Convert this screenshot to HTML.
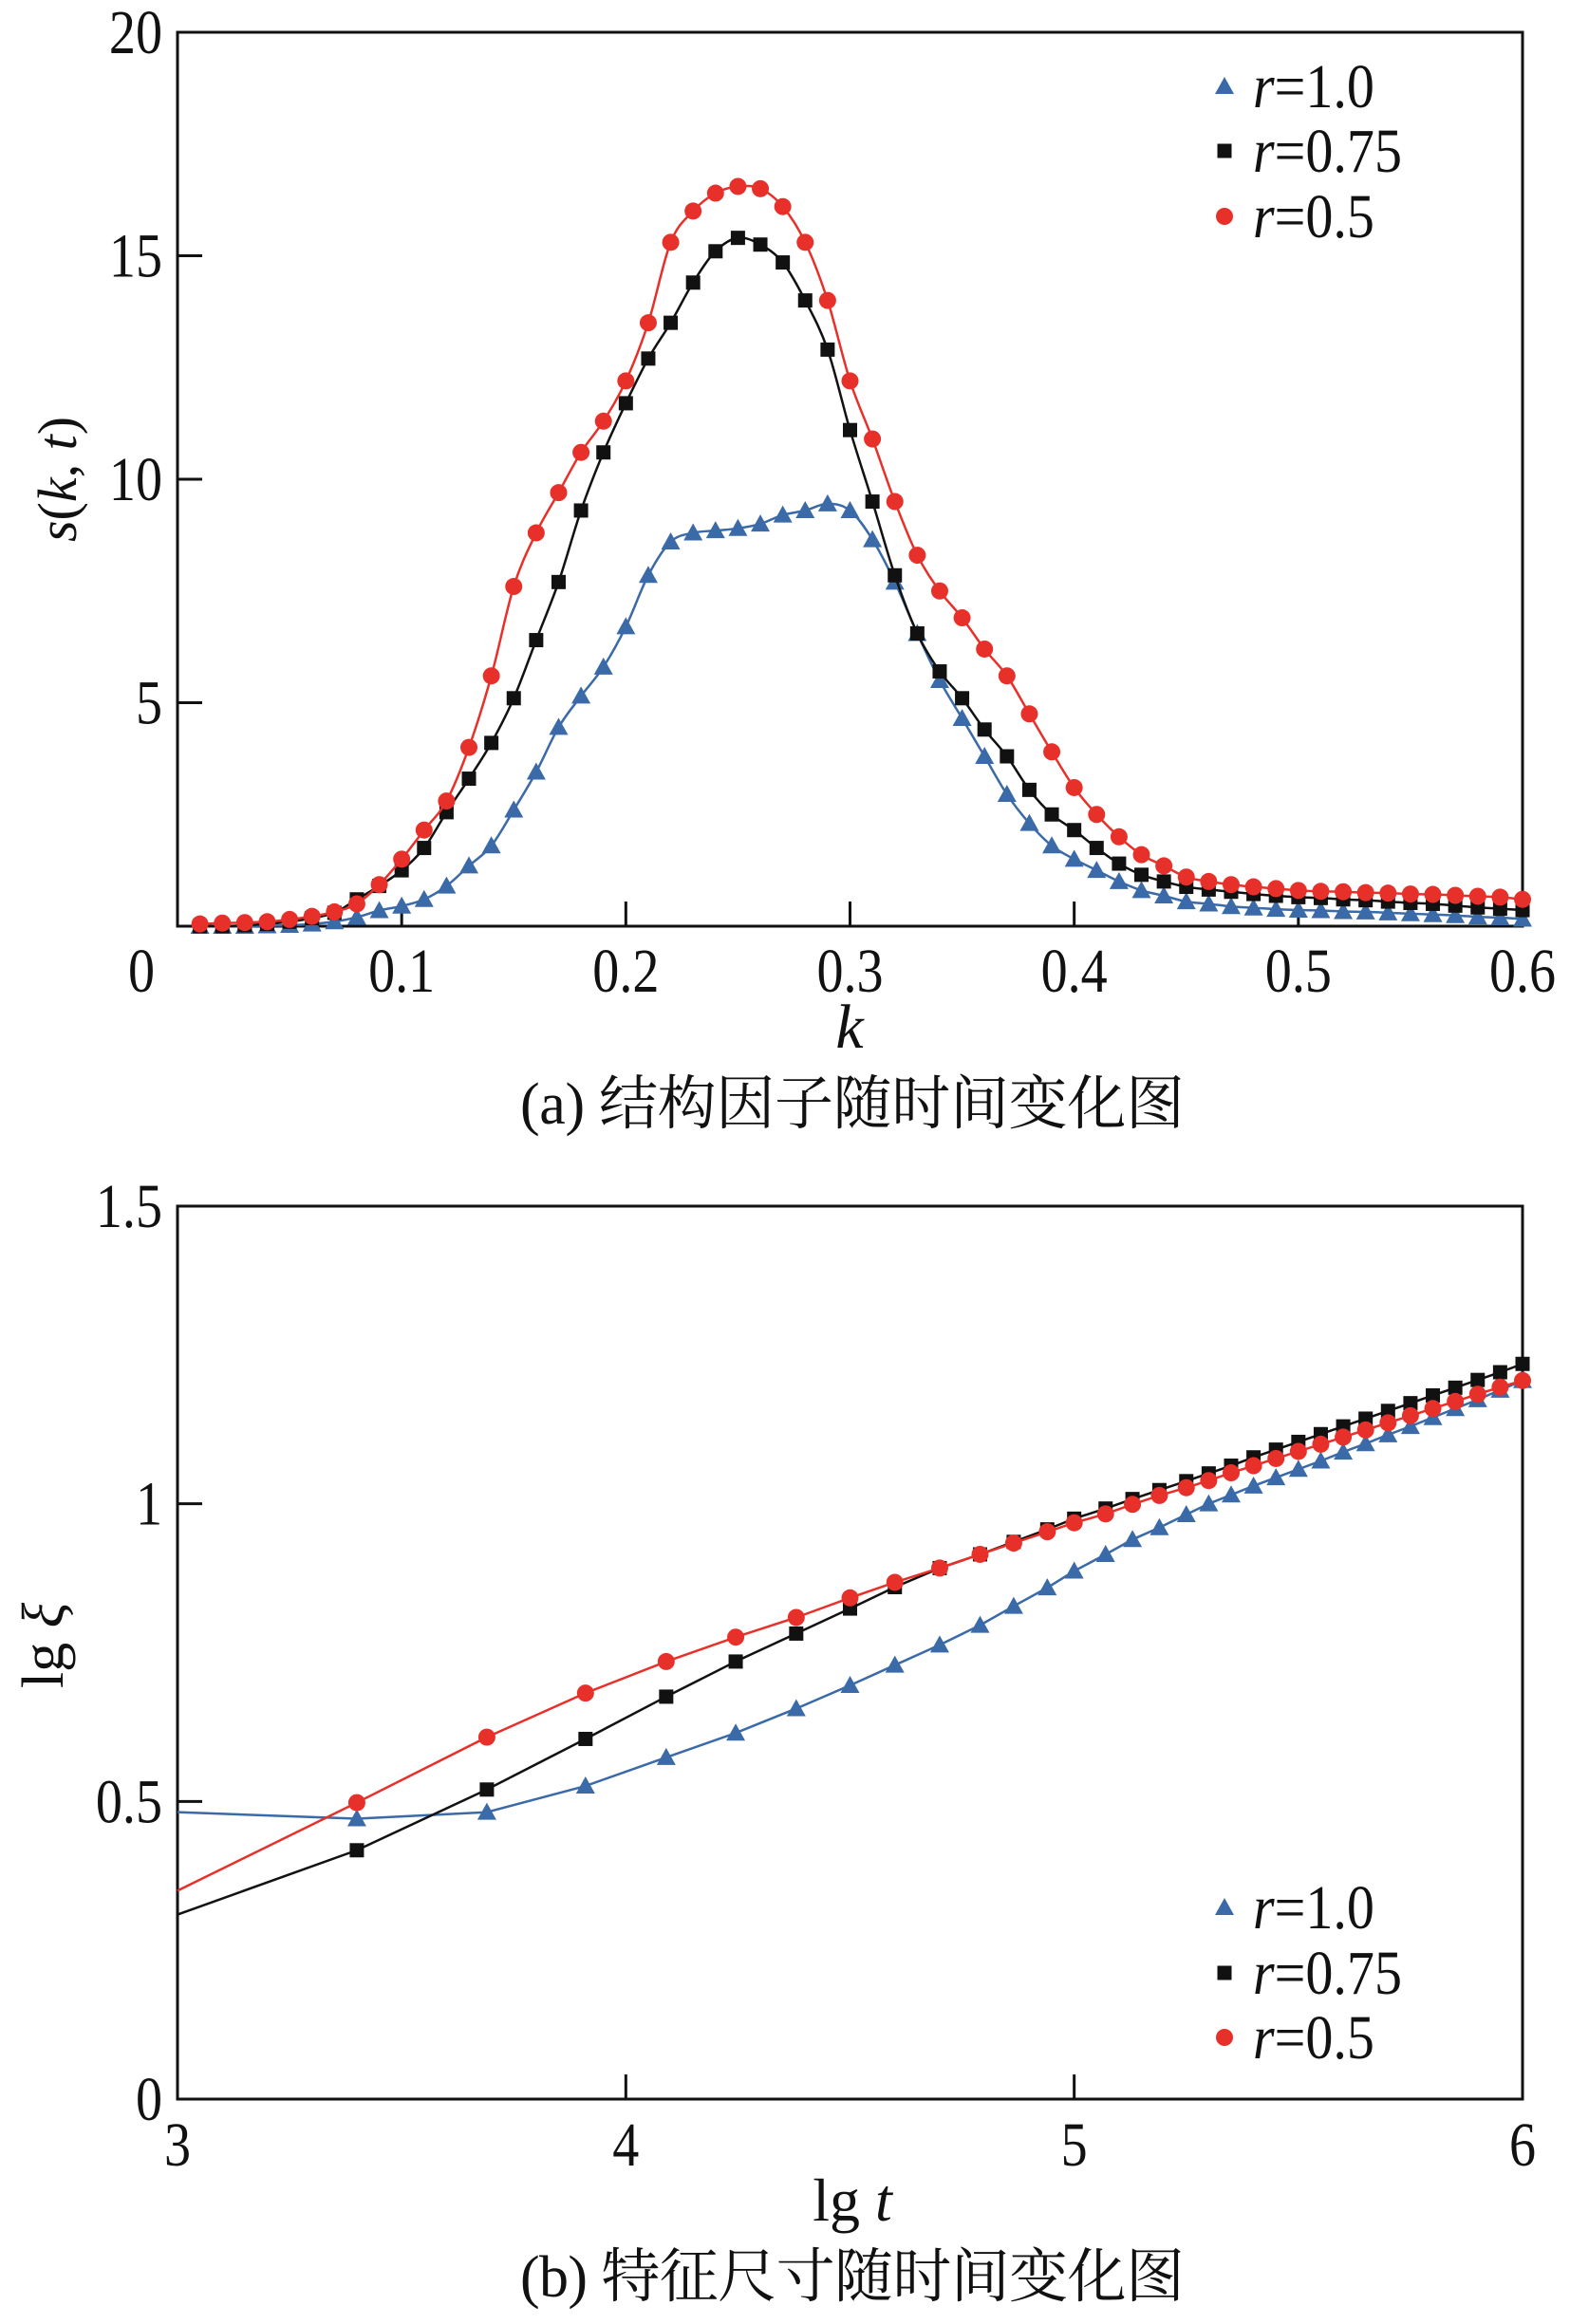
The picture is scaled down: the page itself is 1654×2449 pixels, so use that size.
<!DOCTYPE html>
<html><head><meta charset="utf-8"><style>
html,body{margin:0;padding:0;background:#fff;}
svg{display:block;}
text{font-family:"Liberation Serif","Noto Serif CJK SC",serif;fill:#111;}
</style></head><body>
<svg id="fig" width="1654" height="2449" viewBox="0 0 1654 2449" xmlns="http://www.w3.org/2000/svg"></svg>
<script>
// ---- chart (a) data ----
const kValues = [];
for (let i = 1; i <= 60; i++) kValues.push(i / 100);
const sRed = [0.05,0.07,0.08,0.1,0.15,0.22,0.32,0.5,0.93,
 1.5,2.15,2.8,4.0,5.6,7.6,8.8,9.7,10.6,11.3,
 12.2,13.5,15.3,16.0,16.4,16.55,16.5,16.1,15.3,14.0,
 12.2,10.9,9.5,8.3,7.5,6.9,6.2,5.6,4.75,3.9,
 3.1,2.5,2.0,1.6,1.35,1.1,1.0,0.93,0.88,0.84,
 0.8,0.78,0.77,0.75,0.74,0.72,0.71,0.69,0.67,0.65,0.6];
const sBlack = [0,0,0.02,0.05,0.1,0.18,0.3,0.6,0.9,
 1.25,1.75,2.55,3.3,4.1,5.1,6.4,7.7,9.3,10.6,
 11.7,12.7,13.5,14.4,15.1,15.4,15.25,14.85,14.0,12.9,
 11.1,9.5,7.85,6.55,5.7,5.1,4.4,3.8,3.05,2.5,
 2.15,1.75,1.4,1.15,1.0,0.88,0.82,0.77,0.72,0.68,
 0.65,0.63,0.6,0.58,0.55,0.52,0.5,0.46,0.42,0.39,0.36];
const sBlue = [0,0,0,0.01,0.02,0.05,0.1,0.2,0.35,
 0.45,0.6,0.9,1.35,1.8,2.6,3.45,4.45,5.15,5.8,
 6.7,7.85,8.6,8.8,8.85,8.9,9.0,9.2,9.3,9.45,
 9.3,8.65,7.7,6.55,5.5,4.65,3.8,2.95,2.3,1.8,
 1.5,1.25,1.0,0.8,0.68,0.55,0.5,0.44,0.41,0.38,
 0.36,0.35,0.33,0.32,0.3,0.28,0.26,0.24,0.21,0.19,0.16];
const aXTicks = ["0","0.1","0.2","0.3","0.4","0.5","0.6"];
const aYTicks = ["5","10","15","20"];
// ---- chart (b) data ----
const lgT = [3.0,3.4,3.69,3.91,4.09,4.245,4.38,4.5,4.6,4.7,4.79,4.865,4.94,5.0,5.07,5.13,5.19,5.25,5.3,5.35,5.4,5.45,5.5,5.55,5.6,5.65,5.7,5.75,5.8,5.85,5.9,5.95,6.0];
const xiRed = [0.35,0.498,0.608,0.682,0.735,0.776,0.809,0.842,0.868,0.892,0.915,0.934,0.953,0.968,0.983,0.999,1.014,1.027,1.039,1.052,1.064,1.076,1.088,1.100,1.112,1.124,1.136,1.148,1.160,1.172,1.184,1.196,1.207];
const xiBlack = [0.31,0.418,0.52,0.605,0.676,0.735,0.782,0.824,0.86,0.892,0.915,0.936,0.957,0.975,0.992,1.008,1.023,1.038,1.051,1.064,1.078,1.091,1.104,1.117,1.130,1.143,1.156,1.169,1.182,1.195,1.208,1.221,1.235];
const xiBlue = [0.482,0.471,0.482,0.526,0.574,0.615,0.656,0.695,0.729,0.763,0.796,0.828,0.859,0.887,0.915,0.94,0.96,0.982,1.0,1.015,1.03,1.044,1.058,1.072,1.087,1.101,1.116,1.130,1.145,1.160,1.175,1.191,1.207];
const bXTicks = ["3","4","5","6"];
const bYTicks = ["0","0.5","1","1.5"];
const legendLabels = ["=1.0","=0.75","=0.5"];

const NS = "http://www.w3.org/2000/svg";
const svg = document.getElementById('fig');
const RED = "#e8302a", BLACK = "#111111", BLUE = "#3b6aa8";
function el(tag, attrs, parent) {
  const e = document.createElementNS(NS, tag);
  for (const k in attrs) e.setAttribute(k, attrs[k]);
  (parent || svg).appendChild(e);
  return e;
}
function marker(shape, x, y, color, g) {
  let m;
  if (shape === 'circle') m = el('circle', {cx:x, cy:y, r:9, fill:color}, g);
  else if (shape === 'square') m = el('rect', {x:x-7.5, y:y-7.5, width:15, height:15, fill:color}, g);
  else m = el('polygon', {points:`${x},${y-10} ${x+10},${y+8} ${x-10},${y+8}`, fill:color}, g);
  return m;
}
function condText(x, y, str, anchor, g) {
  const t = el('text', {transform:`translate(${x},${y}) scale(0.85,1)`, 'font-size':66, 'text-anchor':anchor}, g);
  t.textContent = str;
  return t;
}
function smoothPath(pts) {
  let d = `M${pts[0][0]},${pts[0][1]}`;
  for (let i = 0; i < pts.length - 1; i++) {
    const p0 = pts[Math.max(0,i-1)], p1 = pts[i], p2 = pts[i+1], p3 = pts[Math.min(pts.length-1,i+2)];
    const c1x = p1[0] + (p2[0]-p0[0])/6, c1y = p1[1] + (p2[1]-p0[1])/6;
    const c2x = p2[0] - (p3[0]-p1[0])/6, c2y = p2[1] - (p3[1]-p1[1])/6;
    d += ` C${c1x},${c1y} ${c2x},${c2y} ${p2[0]},${p2[1]}`;
  }
  return d;
}
function drawChart(cfg) {
  const {L,R,T,B,xmin,xmax,ymin,ymax,name} = cfg;
  const g = el('g', {});
  
  
  const sx = v => L + (v - xmin) / (xmax - xmin) * (R - L);
  const sy = v => B - (v - ymin) / (ymax - ymin) * (B - T);
  const frame = el('rect', {x:L, y:T, width:R-L, height:B-T, fill:'none', stroke:'#111', 'stroke-width':3}, g);
  
  
  cfg.xTicks.forEach((lab) => {
    const v = parseFloat(lab);
    let x = sx(v);
    if (v !== xmin && v !== xmax) el('line', {x1:x, y1:B, x2:x, y2:B-26, stroke:'#111', 'stroke-width':3}, g);
    if (cfg.zeroShift && v === xmin) x -= 38;
    const t = condText(x, cfg.xTickY, lab, 'middle', g);
    
    
  });
  cfg.yTicks.forEach((lab) => {
    const v = parseFloat(lab), y = sy(v);
    if (v !== ymin && v !== ymax) el('line', {x1:L, y1:y, x2:L+26, y2:y, stroke:'#111', 'stroke-width':3}, g);
    const t = condText(L-16, y+22, lab, 'end', g);
    
    
  });
  cfg.series.forEach(s => {
    const sg = el('g', {}, g);
    
    
    const pts = s.y.map((v,i) => [sx(s.x[i]), sy(v)]);
    const p = el('path', {d: cfg.smooth ? smoothPath(pts) : 'M' + pts.map(q=>q.join(',')).join(' L'), fill:'none', stroke:s.color, 'stroke-width':2.5}, sg);
    
    
    pts.forEach((q,i) => {
      if (i < s.skip) return;
      const m = marker(s.shape, q[0], q[1], s.color, sg);
      
      
    });
  });
  const lg = el('g', {}, g);
  
  
  const shapes = [['triangle',BLUE],['square',BLACK],['circle',RED]];
  cfg.legendY.forEach((y,i) => {
    const eg = el('g', {}, lg);
    
    
    marker(shapes[i][0], 1290, y, shapes[i][1], eg);
    const t = el('text', {transform:`translate(1320,${y+22}) scale(0.88,1)`, 'font-size':66}, eg);
    const it = document.createElementNS(NS, 'tspan');
    it.setAttribute('font-style', 'italic');
    it.textContent = 'r';
    t.appendChild(it);
    t.appendChild(document.createTextNode(legendLabels[i]));
  });
  return {sx, sy};
}
drawChart({name:'chart-structure-factor', L:187, R:1604, T:34, B:976, xmin:0, xmax:0.6, ymin:0, ymax:20,
  xTicks:aXTicks, yTicks:aYTicks, xTickY:1045, smooth:true, zeroShift:true, legendY:[91,159,228],
  series:[
    {name:'series-r-1.0', x:kValues, y:sBlue, color:BLUE, shape:'triangle', skip:0},
    {name:'series-r-0.75', x:kValues, y:sBlack, color:BLACK, shape:'square', skip:0},
    {name:'series-r-0.5', x:kValues, y:sRed, color:RED, shape:'circle', skip:0}
  ]});
drawChart({name:'chart-characteristic-size', L:187, R:1604, T:1271, B:2212, xmin:3, xmax:6, ymin:0, ymax:1.5,
  xTicks:bXTicks, yTicks:bYTicks, xTickY:2282, smooth:false, zeroShift:false, legendY:[2010,2079,2147],
  series:[
    {name:'series-r-1.0', x:lgT, y:xiBlue, color:BLUE, shape:'triangle', skip:1},
    {name:'series-r-0.75', x:lgT, y:xiBlack, color:BLACK, shape:'square', skip:1},
    {name:'series-r-0.5', x:lgT, y:xiRed, color:RED, shape:'circle', skip:1}
  ]});
</script>
<div style="position:absolute;left:0;top:0;width:1654px;height:2449px;pointer-events:none;">
<svg width="1654" height="2449" xmlns="http://www.w3.org/2000/svg" style="position:absolute;left:0;top:0">
  <text x="895" y="1104" font-size="66" font-style="italic" text-anchor="middle">k</text>
  <text x="898" y="1184" font-size="62" text-anchor="middle" textLength="700">(a) 结构因子随时间变化图</text>
  <text transform="translate(80,505) rotate(-90)" font-size="58" text-anchor="middle"><tspan font-style="italic">s</tspan>(<tspan font-style="italic">k</tspan>, <tspan font-style="italic">t</tspan>)</text>
  <text x="898" y="2340" font-size="64" text-anchor="middle">lg <tspan font-style="italic">t</tspan></text>
  <text x="898" y="2420" font-size="62" text-anchor="middle" textLength="700">(b) 特征尺寸随时间变化图</text>
  <text transform="translate(66,1734) rotate(-90)" font-size="62" text-anchor="middle">lg <tspan font-style="italic">ξ</tspan></text>
</svg>
</div>
</body></html>
